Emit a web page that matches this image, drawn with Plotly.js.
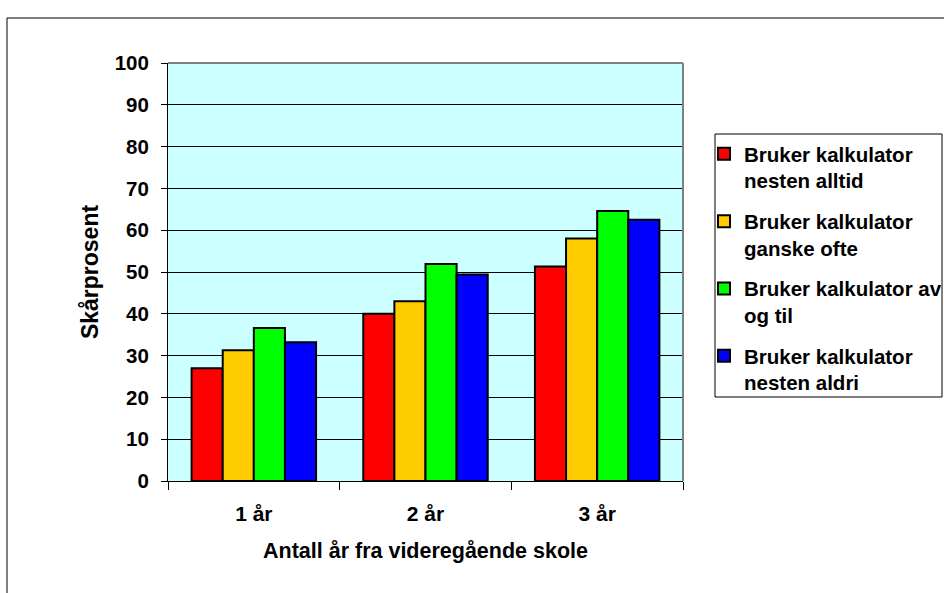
<!DOCTYPE html>
<html>
<head>
<meta charset="utf-8">
<script src="https://cdn.plot.ly/plotly-3.0.1.min.js"></script>
<style>
html,body{margin:0;padding:0;background:#fff;}
#chart{width:944px;height:593px;}
</style>
</head>
<body>
<div id="chart"></div>
<script>
// Data
var categories = ["1 år", "2 år", "3 år"];
var seriesNames = [
  "Bruker kalkulator<br>nesten alltid",
  "Bruker kalkulator<br>ganske ofte",
  "Bruker kalkulator av<br>og til",
  "Bruker kalkulator<br>nesten aldri"
];
var valuesAlltid = [27.0, 40.0, 51.3];
var valuesOfte = [31.3, 43.0, 58.0];
var valuesAvOgTil = [36.6, 51.9, 64.6];
var valuesAldri = [33.2, 49.4, 62.5];
var seriesColors = ["#FF0000", "#FFCC00", "#00FF00", "#0000FF"];
var yTicks = [0, 10, 20, 30, 40, 50, 60, 70, 80, 90, 100];

var seriesValues = [valuesAlltid, valuesOfte, valuesAvOgTil, valuesAldri];

var fontFamily = "Liberation Sans, Arial, sans-serif";

var traces = seriesValues.map(function (vals, i) {
  return {
    type: "bar",
    x: categories,
    y: vals,
    name: seriesNames[i],
    legendgroup: "g" + i,
    marker: { color: seriesColors[i], line: { color: "#000000", width: 2 } },
    hoverinfo: "x+y"
  };
});

// pixel helpers for decorations (plot area: 168..683 x, 63..481 y)
var W = 944, H = 593;
var L = 168, R = 683, T = 63, B = 481;
function px(x) { return (x - L) / (R - L); }
function py(y) { return (B - y) / (B - T); }

var layout = {
  width: W,
  height: H,
  margin: { l: L, r: W - R, t: T, b: H - B, pad: 0, autoexpand: false },
  paper_bgcolor: "#FFFFFF",
  plot_bgcolor: "#CCFFFF",
  barmode: "group",
  bargap: 0.275,
  bargroupgap: 0,
  showlegend: true,
  font: { family: fontFamily, color: "#000000", size: 20, weight: "bold" },
  legend: {
    xref: "container",
    yref: "container",
    x: 704 / W,
    y: 1 - 134 / H,
    xanchor: "left",
    yanchor: "top",
    bgcolor: "rgba(0,0,0,0)",
    borderwidth: 0,
    traceorder: "grouped",
    tracegroupgap: 11,
    valign: "top",
    font: { family: fontFamily, size: 20.5, color: "#000000", weight: "bold" }
  },
  xaxis: {
    type: "category",
    showgrid: false,
    showline: true,
    linecolor: "#000000",
    linewidth: 1,
    ticks: "outside",
    tickson: "boundaries",
    ticklen: 8,
    tickcolor: "#000000",
    tickwidth: 1,
    ticklabelstandoff: 14,
    tickfont: { family: fontFamily, size: 21, color: "#000000", weight: "bold" },
    title: {
      text: "Antall år fra videregående skole",
      font: { family: fontFamily, size: 21.5, color: "#000000", weight: "bold" },
      standoff: 18
    },
    fixedrange: true
  },
  yaxis: {
    range: [0, 100],
    tickvals: yTicks,
    ticktext: yTicks.map(String),
    showgrid: true,
    gridcolor: "#000000",
    gridwidth: 1,
    zeroline: false,
    showline: true,
    linecolor: "#000000",
    linewidth: 1,
    ticks: "outside",
    ticklen: 6,
    tickcolor: "#000000",
    tickwidth: 1,
    ticklabelstandoff: 8,
    tickfont: { family: fontFamily, size: 20.5, color: "#000000", weight: "bold" },
    title: {
      text: "Skårprosent",
      font: { family: fontFamily, size: 23, color: "#000000", weight: "bold" },
      standoff: 9
    },
    fixedrange: true
  },
  shapes: [
    // gray plot frame top and right
    { type: "line", xref: "paper", yref: "paper", x0: 0, x1: 1, y0: 1, y1: 1,
      line: { color: "#808080", width: 2 }, layer: "above" },
    { type: "line", xref: "paper", yref: "paper", x0: 1, x1: 1, y0: 0, y1: 1,
      line: { color: "#808080", width: 2 }, layer: "above" },
    // legend box
    { type: "rect", xref: "paper", yref: "paper",
      x0: px(715), x1: px(942), y0: py(397), y1: py(134),
      line: { color: "#000000", width: 1 }, fillcolor: "rgba(0,0,0,0)", layer: "above" },
    // outer chart frame (top and left)
    { type: "line", xref: "paper", yref: "paper", x0: px(7), x1: px(960), y0: py(18), y1: py(18),
      line: { color: "#000000", width: 1 }, layer: "above" },
    { type: "line", xref: "paper", yref: "paper", x0: px(7), x1: px(7), y0: py(18), y1: py(610),
      line: { color: "#000000", width: 1 }, layer: "above" }
  ]
};

Plotly.newPlot("chart", traces, layout, { displayModeBar: false, staticPlot: true });
</script>
</body>
</html>
